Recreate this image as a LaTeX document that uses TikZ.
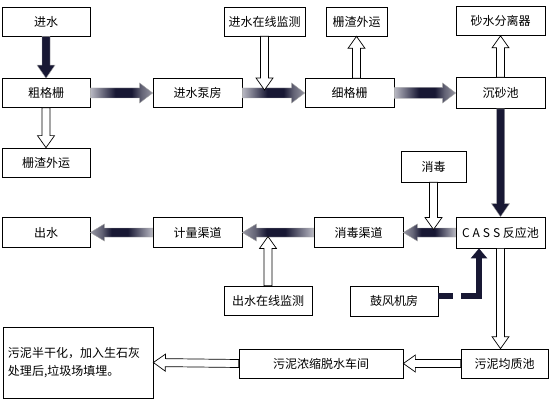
\documentclass[tikz,border=0pt]{standalone}
\usepackage{fontspec}
\newfontfamily\cjk{Noto Sans CJK SC}
\usetikzlibrary{calc,arrows.meta}
\definecolor{shenlan}{RGB}{24,24,52}
\definecolor{qianhui}{RGB}{185,185,195}
\definecolor{zhonghui}{RGB}{150,150,162}
\pgfdeclarehorizontalshading{guandao}{100bp}{color(0bp)=(qianhui); color(25bp)=(qianhui); color(45bp)=(shenlan); color(58bp)=(shenlan); color(66bp)=(zhonghui!60!shenlan); color(75bp)=(zhonghui); color(100bp)=(zhonghui)}
\tikzset{
	fat/.style n args={3}{to path={
		($(\tikztostart)!#1!90:(\tikztotarget)$)
		-- ($(\tikztotarget)!#3!(\tikztostart)!#1!90:(\tikztotarget)$)
		-- ($(\tikztotarget)!#3!(\tikztostart)!#2!90:(\tikztotarget)$)
		-- (\tikztotarget)
		-- ($(\tikztotarget)!#3!(\tikztostart)!#2!-90:(\tikztotarget)$)
		-- ($(\tikztotarget)!#3!(\tikztostart)!#1!-90:(\tikztotarget)$)
		-- ($(\tikztostart)!#1!-90:(\tikztotarget)$)
		-- cycle}}
}
\begin{document}
\begin{tikzpicture}[x=1pt, y=-1pt, node font=\cjk\fontsize{12pt}{14pt}\selectfont,
	box/.style={draw, line width=.7pt, minimum height=29pt, inner sep=1pt},
	rong/.style={draw, fill=white, line width=.7pt, fat={4pt}{8.5pt}{12pt}},
	jian/.style={shading=guandao, draw=gray!70, line width=.4pt, fat={4.5pt}{8.5pt}{14pt}},
	shu/.style={fill=shenlan, draw=gray!70, line width=.4pt, fat={4pt}{9pt}{13pt}}]
				\useasboundingbox (0,0) rectangle (551,406);
				\node[box, minimum width=88pt] (jinshui) at (46,21.5) {进水};
				\node[box, minimum width=88pt] (cgs) at (46,93) {粗格栅};
				\node[box, minimum width=88pt] (zzl) at (46,162.5) {栅渣外运};
				\node[box, minimum width=89pt] (jbf) at (197.5,93) {进水泵房};
				\node[box, minimum width=81pt] (jsjc) at (264.5,21.5) {进水在线监测};
				\node[box, minimum width=61pt] (zzr) at (356.5,21.5) {栅渣外运};
				\node[box, minimum width=89pt] (xgs) at (349.5,93) {细格栅};
				\node[box, minimum width=89pt] (sfl) at (500.5,21) {砂水分离器};
				\node[box, minimum width=89pt, minimum height=31pt] (csc) at (500.5,93) {沉砂池};
				\node[box, minimum width=65pt, minimum height=31pt] (xd) at (433.5,166.5) {消毒};
				\node[box, minimum width=89pt, minimum height=31pt] (cass) at (500.5,232.5) {C\kern3pt A\kern3pt S\kern3pt S 反应池};
				\node[box, minimum width=89pt, minimum height=30pt] (xdqd) at (358.5,232.5) {消毒渠道};
				\node[box, minimum width=89pt, minimum height=30pt] (jlqd) at (197.5,232.5) {计量渠道};
				\node[box, minimum width=88pt, minimum height=30pt] (cs) at (46,232.5) {出水};
				\node[box, minimum width=88pt] (csjc) at (268,300.5) {出水在线监测};
				\node[box, minimum width=88pt, minimum height=30pt] (gfj) at (394,301) {鼓风机房};
				\node[box, minimum width=150pt, minimum height=71pt, text width=140pt, inner xsep=5pt, align=left, font=\fontsize{12pt}{18pt}\selectfont] (wnbg) at (78,362.5) {污泥半干化，加入生石灰\\处理后,垃圾场填埋。};
				\node[box, minimum width=164pt] (wnns) at (321,363.5) {污泥浓缩脱水车间};
				\node[box, minimum width=87pt] (wnjz) at (504.5,363.5) {污泥均质池};
				\coordinate[yshift=3pt] (jsdian) at (jsjc.south |- jbf.east);
				\coordinate[yshift=3pt] (xddian) at (xd.south |- cass.west);
				\coordinate[yshift=-4pt] (csdian) at (csjc.north |- jlqd.east);
				\coordinate (zzdi) at (zzr.south |- xgs.north);
				\coordinate (wndian) at (cass.south |- wnjz.north);
				\coordinate[xshift=-21.5pt] (gfdian) at (cass.south);
				\coordinate[yshift=5pt] (gfqi) at (gfj.east);
				\path[shu] (jinshui.south) to (cgs.north);
				\shade[jian, fat={5pt}{10pt}{13pt}] (cgs.east) to (jbf.west);
				\shade[jian, fat={5pt}{10pt}{13pt}] (jbf.east) to (xgs.west);
				\shade[jian, fat={5.5pt}{10pt}{13pt}] (xgs.east) to (csc.west);
				\path[shu] (csc.south) to (cass.north);
				\shade[jian, shading angle=180] (cass.west) to (xdqd.east);
				\shade[jian, shading angle=180] (xdqd.west) to (jlqd.east);
				\shade[jian, shading angle=180] (jlqd.west) to (cs.east);
				\draw[line width=6pt, shenlan, dash pattern=on 15pt off 8pt on 300pt off 1pt, dash phase=0pt, -{Triangle[width=16pt,length=10pt]}] (gfqi) -| (gfdian);
				\path[rong] (cgs.south) to (zzl.north);
				\path[rong] (jsjc.south) to (jsdian);
				\path[rong] (zzdi) to (zzr.south);
				\path[rong] (csc.north) to (sfl.south);
				\path[rong] (xd.south) to (xddian);
				\path[rong] (csjc.north) to (csdian);
				\path[rong] (cass.south) to (wndian);
				\path[rong] (wnjz.west) to (wnns.east);
				\path[rong] (wnns.west) to (wnbg.east);
			\end{tikzpicture}
\end{document}
